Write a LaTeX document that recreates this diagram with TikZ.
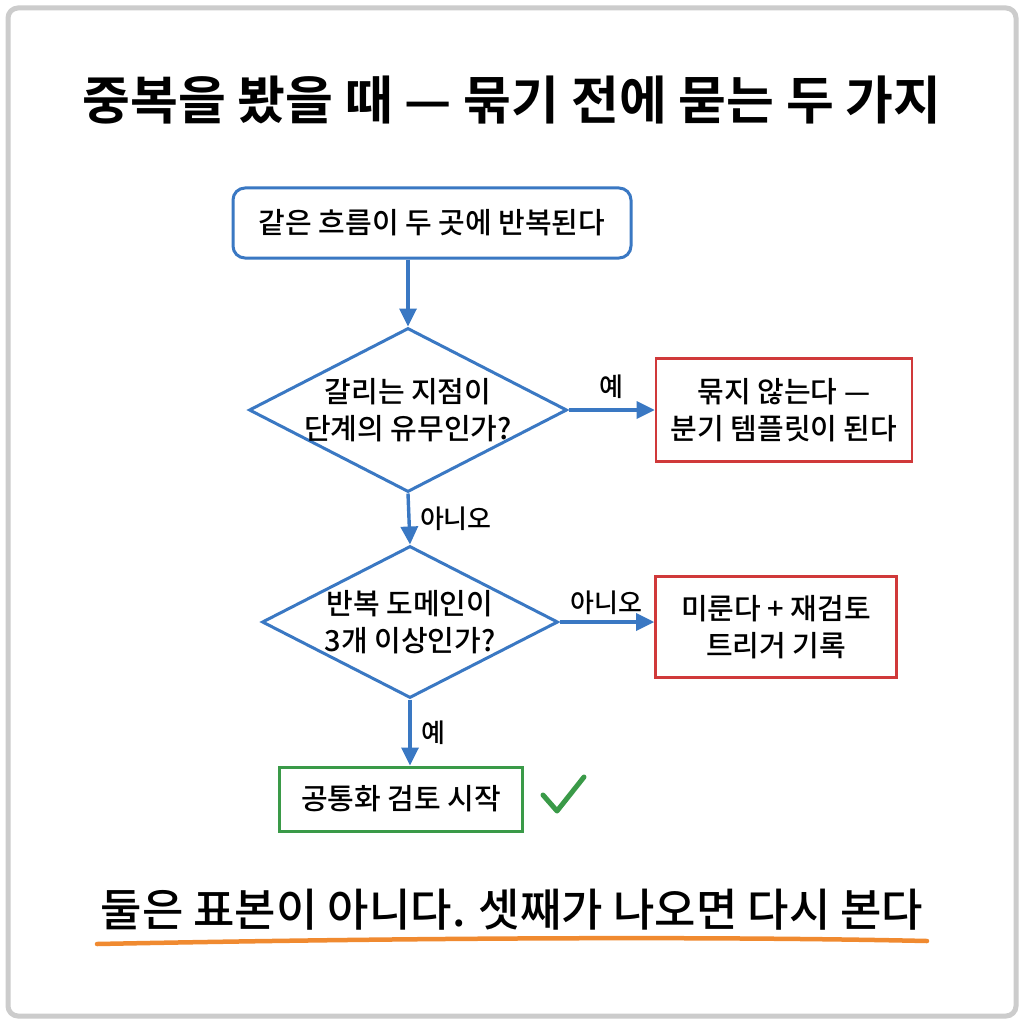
\documentclass[tikz,border=0pt]{standalone}
\usepackage{fontspec}
\setmainfont{Noto Sans CJK KR}[UprightFont=* Medium,BoldFont=* Bold]
\usetikzlibrary{arrows.meta,shapes.geometric}
\definecolor{bl}{HTML}{3A78C3}
\definecolor{rd}{HTML}{D0393A}
\definecolor{gr}{HTML}{3A9A48}
\definecolor{og}{HTML}{F08A30}
\begin{document}
\begin{tikzpicture}[x=1pt,y=-1pt,
 txt/.style={font=\fontsize{29}{37}\selectfont,align=center},
 arr/.style={draw=bl,line width=3.4pt,-{Triangle[length=18pt,width=17pt]}},
 lab/.style={font=\fontsize{26}{30}\selectfont}]
\useasboundingbox (0,0) rectangle (1024,1024);
\fill[white] (0,0) rectangle (1024,1024);
\draw[line width=5pt,draw=black!20,rounded corners=10pt,fill=white] (8,8) rectangle (1016,1016);
\node (title) at (512,100) {\fontsize{52}{58}\selectfont\bfseries 중복을 봤을 때 — 묶기 전에 묻는 두 가지};
\node[txt,draw=bl,line width=3pt,rounded corners=12pt,minimum width=398pt,minimum height=70pt] (a) at (432,223) {같은 흐름이 두 곳에 반복된다};
\node[txt,draw=bl,line width=3pt,diamond,aspect=1.95,minimum width=318pt,minimum height=164pt,inner sep=0pt] (d1) at (408,410) {};
\node[txt] at (d1) {갈리는 지점이\\단계의 유무인가?};
\node[txt,draw=rd,line width=2.6pt,minimum width=256pt,minimum height=103pt] (r1) at (784,410) {묶지 않는다 —\\분기 템플릿이 된다};
\node[txt,draw=bl,line width=3pt,diamond,aspect=1.95,minimum width=296pt,minimum height=152pt,inner sep=0pt] (d2) at (410,622) {};
\node[txt] at (d2) {반복 도메인이\\3개 이상인가?};
\node[txt,draw=rd,line width=2.6pt,minimum width=241pt,minimum height=101pt] (r2) at (776,627) {미룬다 + 재검토\\트리거 기록};
\node[txt,draw=gr,line width=3pt,minimum width=243pt,minimum height=64pt] (g) at (401,799) {공통화 검토 시작};
\draw[arr] (a.south -| d1.north) -- (d1.north);
\draw[arr] (d1.east) -- (r1.west |- d1.east) node[lab,midway,above=6pt] {예};
\draw[arr] (d1.south) -- (d2.north) node[lab,midway,right=6pt] {아니오};
\draw[arr] (d2.east) -- (r2.west |- d2.east) node[lab,midway,above=2pt] {아니오};
\draw[arr] (d2.south) -- (d2.south |- g.north) node[lab,midway,right=6pt] {예};
\coordinate (c1) at (543,795); \coordinate (c2) at (557,811); \coordinate (c3) at (584,777);
\draw[gr,line width=5pt,line cap=round,line join=round] (c1) -- (c2) -- (c3);
\node (bt) at (512,910) {\fontsize{45}{50}\selectfont 둘은 표본이 아니다. 셋째가 나오면 다시 본다};
\coordinate (u1) at (97,944); \coordinate (u2) at (927,941);
\draw[og,line width=4.5pt,line cap=round] (u1) .. controls (400,938) and (700,936) .. (u2);
\end{tikzpicture}
\end{document}
